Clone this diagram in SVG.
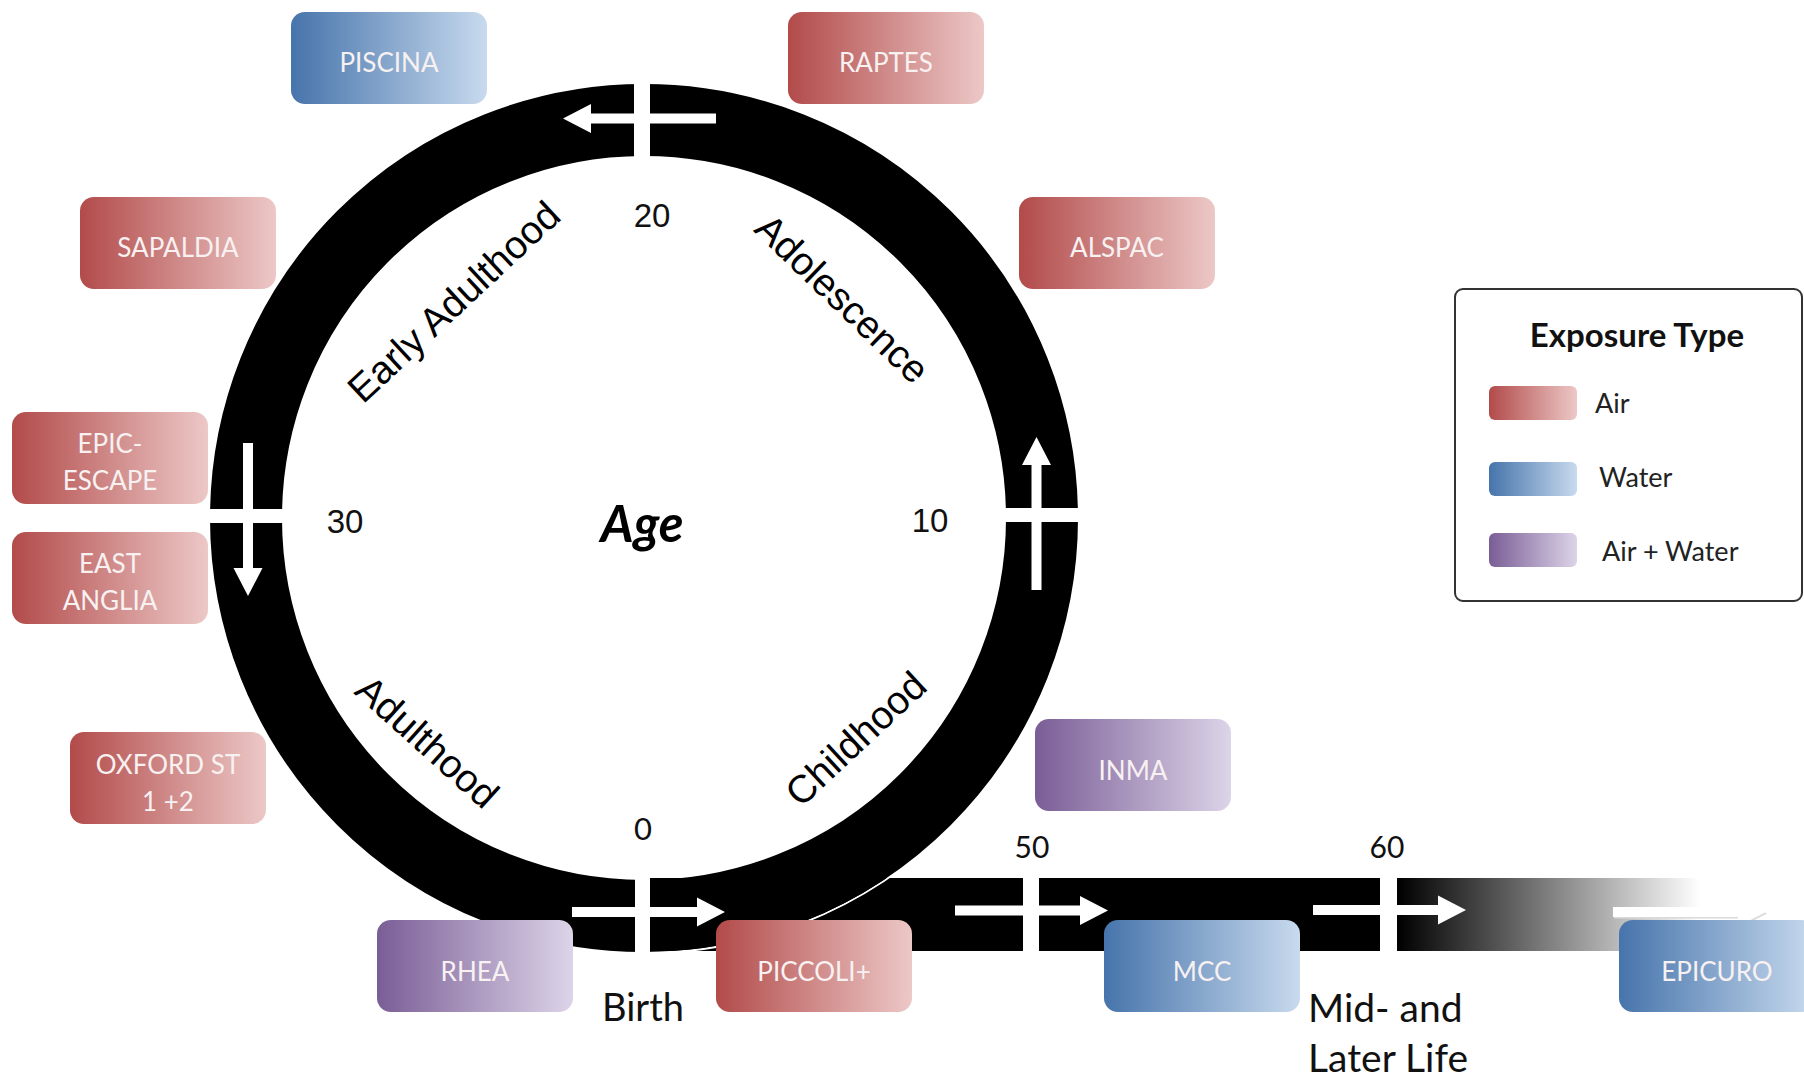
<svg xmlns="http://www.w3.org/2000/svg" xmlns:xlink="http://www.w3.org/1999/xlink" width="1804" height="1080" viewBox="0 0 1804 1080">
<defs>
<linearGradient id="gRed" x1="0" y1="0" x2="1" y2="0"><stop offset="0" stop-color="#b24b4a"/><stop offset="1" stop-color="#ecc8c7"/></linearGradient>
<linearGradient id="gBlue" x1="0" y1="0" x2="1" y2="0"><stop offset="0" stop-color="#4674ab"/><stop offset="1" stop-color="#c8daee"/></linearGradient>
<linearGradient id="gPurple" x1="0" y1="0" x2="1" y2="0"><stop offset="0" stop-color="#7a5d96"/><stop offset="1" stop-color="#dcd4e8"/></linearGradient>
<linearGradient id="gBand" gradientUnits="userSpaceOnUse" x1="1398" y1="0" x2="1700" y2="0"><stop offset="0" stop-color="#000"/><stop offset="1" stop-color="#fff"/></linearGradient>
<path id="arr" d="M0,-5 H125 V-14.5 L153,0 L125,14.5 V5 H0 Z"/>
<style>
.box{stroke:none}
.red{fill:url(#gRed)}
.blue{fill:url(#gBlue)}
.purple{fill:url(#gPurple)}
.lbl{font-family:Lato,"Open Sans",sans-serif;font-size:26px;fill:#f8f1f1;text-anchor:middle}
.num{font-family:"Liberation Sans",Arial,sans-serif;font-size:33px;fill:#111;text-anchor:middle}
.cal{font-family:Lato,"Open Sans",sans-serif;fill:#111}
.stage{font-family:"Liberation Sans",Arial,sans-serif;font-size:39px;fill:#000;text-anchor:middle}
.gap{fill:#fff}
.arrow{fill:#fff}
.leg{font-family:Lato,"Open Sans",sans-serif;font-size:27px;fill:#222}
</style>
</defs>
<rect width="1804" height="1080" fill="#fff"/>

<g id="timeline">
<rect x="644" y="878" width="1160" height="73" fill="url(#gBand)"/>
<circle cx="644" cy="518" r="435" fill="none" stroke="#fff" stroke-width="2"/>
<circle cx="644" cy="518" r="398" fill="none" stroke="#000" stroke-width="72"/>
<rect class="gap" x="634" y="78" width="16" height="84"/>
<rect class="gap" x="635" y="872" width="15" height="86"/>
<rect class="gap" x="998" y="508" width="86" height="14"/>
<rect class="gap" x="204" y="509" width="86" height="14"/>
<rect class="gap" x="1023" y="872" width="16" height="84"/>
<rect class="gap" x="1380" y="872" width="17" height="84"/>
</g>

<g id="connectors">
<use href="#arr" class="arrow" transform="translate(716,118.5) rotate(180)"/>
<use href="#arr" class="arrow" transform="translate(1036.5,590) rotate(-90)"/>
<use href="#arr" class="arrow" transform="translate(248,443) rotate(90)"/>
<use href="#arr" class="arrow" transform="translate(572,912)"/>
<use href="#arr" class="arrow" transform="translate(955,910.5)"/>
<use href="#arr" class="arrow" transform="translate(1313,910)"/>
<use href="#arr" fill="#dadada" transform="translate(1614,913.5)"/>
<use href="#arr" class="arrow" transform="translate(1613,912)"/>
</g>

<g id="labels">
<text class="num" x="652" y="227">20</text>
<text class="num" x="930" y="532">10</text>
<text class="num" x="345" y="533">30</text>
<text class="cal" x="643" y="840" font-size="31" text-anchor="middle">0</text>
<text class="cal" x="1032" y="858" font-size="30" text-anchor="middle">50</text>
<text class="cal" x="1387" y="858" font-size="30" text-anchor="middle">60</text>
<text class="cal" x="643" y="1021" font-size="38" text-anchor="middle">Birth</text>
<text class="cal" x="1308" y="1022" font-size="39">Mid- and</text>
<text class="cal" x="1308" y="1072" font-size="39">Later Life</text>
<text x="642" y="542" font-family="Lato,'Open Sans',sans-serif" font-size="51" font-weight="bold" font-style="italic" fill="#000" text-anchor="middle">Age</text>
<text class="stage" transform="translate(454,302) rotate(-43)" y="13">Early Adulthood</text>
<text class="stage" transform="translate(842,299) rotate(44)" y="13">Adolescence</text>
<text class="stage" transform="translate(427,742) rotate(42)" y="13">Adulthood</text>
<text class="stage" transform="translate(856,739) rotate(-43)" y="13">Childhood</text>
</g>

<g id="node-piscina"><rect class="box blue" x="291" y="12" width="196" height="92" rx="14"/><text class="lbl" x="389" y="72">PISCINA</text></g>
<g id="node-raptes"><rect class="box red" x="788" y="12" width="196" height="92" rx="14"/><text class="lbl" x="886" y="72">RAPTES</text></g>
<g id="node-sapaldia"><rect class="box red" x="80" y="197" width="196" height="92" rx="14"/><text class="lbl" x="178" y="257">SAPALDIA</text></g>
<g id="node-alspac"><rect class="box red" x="1019" y="197" width="196" height="92" rx="14"/><text class="lbl" x="1117" y="257">ALSPAC</text></g>
<g id="node-epic-escape"><rect class="box red" x="12" y="412" width="196" height="92" rx="14"/><text class="lbl" x="110" y="453">EPIC-</text><text class="lbl" x="110" y="490">ESCAPE</text></g>
<g id="node-east-anglia"><rect class="box red" x="12" y="532" width="196" height="92" rx="14"/><text class="lbl" x="110" y="573">EAST</text><text class="lbl" x="110" y="610">ANGLIA</text></g>
<g id="node-oxford"><rect class="box red" x="70" y="732" width="196" height="92" rx="14"/><text class="lbl" x="168" y="774">OXFORD ST</text><text class="lbl" x="168" y="811">1 +2</text></g>
<g id="node-inma"><rect class="box purple" x="1035" y="719" width="196" height="92" rx="14"/><text class="lbl" x="1133" y="780">INMA</text></g>
<g id="node-rhea"><rect class="box purple" x="377" y="920" width="196" height="92" rx="14"/><text class="lbl" x="475" y="981">RHEA</text></g>
<g id="node-piccoli"><rect class="box red" x="716" y="920" width="196" height="92" rx="14"/><text class="lbl" x="814" y="981">PICCOLI+</text></g>
<g id="node-mcc"><rect class="box blue" x="1104" y="920" width="196" height="92" rx="14"/><text class="lbl" x="1202" y="981">MCC</text></g>
<g id="node-epicuro"><rect class="box blue" x="1619" y="920" width="196" height="92" rx="14"/><text class="lbl" x="1717" y="981">EPICURO</text></g>

<g id="legend">
<rect x="1455" y="289" width="347" height="312" rx="8" fill="#fff" stroke="#333" stroke-width="2"/>
<text x="1637" y="347" font-family="Lato,'Open Sans',sans-serif" font-size="33" font-weight="bold" fill="#111" text-anchor="middle">Exposure Type</text>
<rect class="red" x="1489" y="386" width="88" height="34" rx="6"/>
<text class="leg" x="1595" y="413">Air</text>
<rect class="blue" x="1489" y="462" width="88" height="34" rx="6"/>
<text class="leg" x="1599" y="487">Water</text>
<rect class="purple" x="1489" y="533" width="88" height="34" rx="6"/>
<text class="leg" x="1602" y="561">Air + Water</text>
</g>
</svg>
